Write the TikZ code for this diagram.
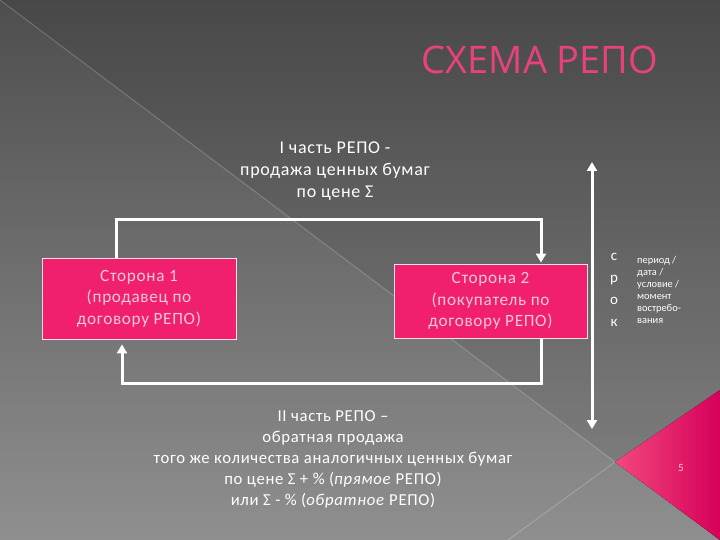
\documentclass[tikz,border=0pt]{standalone}
\usepackage{fontspec}
\setmainfont{Carlito}
\newfontfamily\titlefont{Open Sans}
\newfontfamily\widefont[LetterSpace=4]{Carlito}
\usetikzlibrary{arrows.meta}
\definecolor{bgtop}{HTML}{4E4E4E}
\definecolor{bgbot}{HTML}{8F8F8F}
\definecolor{boxpink}{HTML}{F0206E}
\definecolor{boxtext}{HTML}{F7C8DA}
\definecolor{titlepink}{HTML}{E8417E}
\definecolor{trilight}{HTML}{F2487F}
\definecolor{tridark}{HTML}{D6005A}
\tikzset{
  party/.style={draw=white!85!boxpink, line width=0.8pt, fill=boxpink, text=boxtext,
    align=center, inner sep=0pt, font=\widefont\fontsize{17.2}{21.5}\selectfont},
  conn/.style={draw=white, line width=3pt},
  tip/.style={-{Triangle[width=10pt,length=9pt]}},
  plain/.style={text=white, align=center, inner sep=0pt}
}
\begin{document}
\begin{tikzpicture}[x=1pt,y=-1pt]
\fill[top color=bgtop, bottom color=bgbot] (0,0) rectangle (720,540);
\useasboundingbox (0,0) rectangle (720,540);
\fill[black, opacity=0.07] (0,0) -- (720,0) -- (720,390) -- (615,462) -- cycle;
\draw[white, opacity=0.2, line width=1pt] (0,0) -- (615,462) -- (508,540);
\fill[left color=trilight, right color=tridark] (615,462) -- (720,390) -- (720,540) -- cycle;

\node[text=titlepink, font=\titlefont\fontsize{38}{38}\selectfont, inner sep=0pt] (title) at (540,60) {СХЕМА РЕПО};

\node[party, minimum width=194pt, minimum height=81pt] (s1) at (139,298.5) {Сторона 1\\(продавец по\\договору РЕПО)};
\node[party, minimum width=193pt, minimum height=74pt] (s2) at (490.5,301) {Сторона 2\\(покупатель по\\договору РЕПО)};

\coordinate (c1) at (116,220);
\coordinate (c2) at (541,220);
\coordinate (c3) at (541,383);
\coordinate (c4) at (122,383);
\draw[conn, tip, shorten >=1pt] (c1 |- s1.north) -- (c1) -- (c2) -- (c2 |- s2.north);
\draw[conn, tip, shorten >=5pt] (c3 |- s2.south) -- (c3) -- (c4) -- (c4 |- s1.south);

\coordinate (vt) at (592,162);
\coordinate (vb) at (592,429);
\draw[conn, {Triangle[width=10pt,length=9pt]}-{Triangle[width=10pt,length=9pt]}] (vt) -- (vb);

\node[plain, font=\widefont\fontsize{18}{22}\selectfont] (p1) at (335,171) {I часть РЕПО -\\продажа ценных бумаг\\по цене Σ};
\node[plain, font=\widefont\fontsize{16.7}{21}\selectfont] (p2) at (333,459) {II часть РЕПО –\\обратная продажа\\того же количества аналогичных ценных бумаг\\по цене Σ + \% (\textit{прямое} РЕПО)\\или Σ - \% (\textit{обратное} РЕПО)};

\node[plain, font=\fontsize{15}{22}\selectfont] (srok) at (614,290) {с\\р\\о\\к};
\node[plain, align=left, anchor=north west, font=\fontsize{10.4}{12}\selectfont] (note) at (637,256) {период /\\дата /\\условие /\\момент\\востребо-\\вания};

\node[text=boxtext, font=\fontsize{11}{11}\selectfont, inner sep=0pt] (num) at (681,468) {5};
\end{tikzpicture}
\end{document}
